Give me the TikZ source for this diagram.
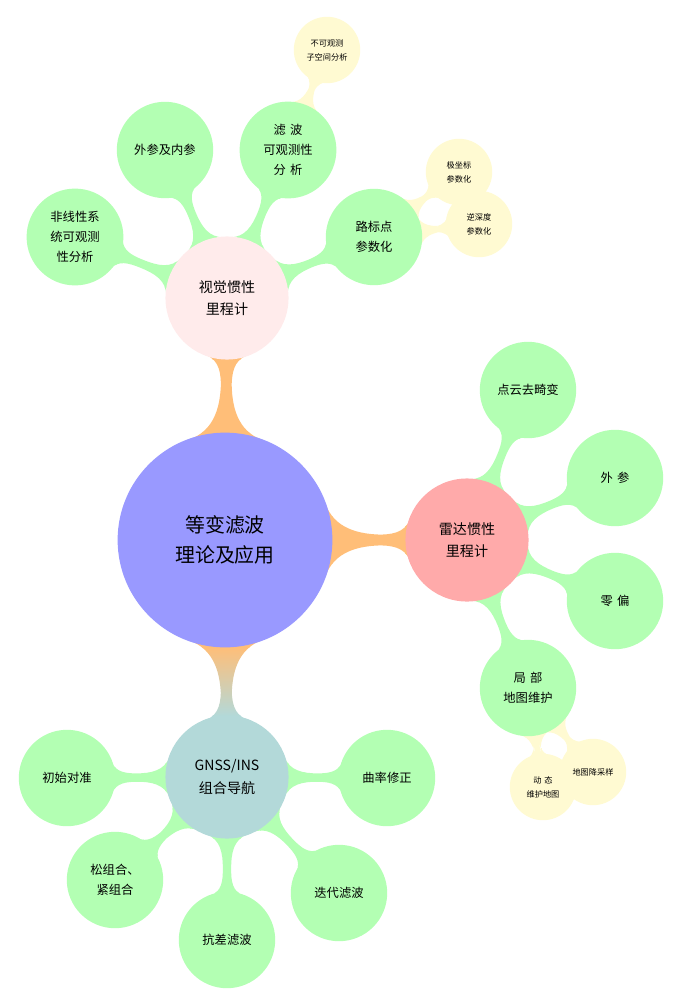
\documentclass[tikz,border=0pt]{standalone}
\usepackage{fontspec}
\newfontfamily\cjk{Noto Sans CJK SC}
\usetikzlibrary{mindmap,backgrounds}
\definecolor{cblue}{RGB}{153,153,255}
\definecolor{cpink}{RGB}{255,235,235}
\definecolor{cred}{RGB}{255,170,170}
\definecolor{cteal}{RGB}{179,217,217}
\definecolor{cgreen}{RGB}{179,255,179}
\definecolor{cyel}{RGB}{255,250,210}
\definecolor{corange}{RGB}{255,190,120}
\begin{document}
\begin{tikzpicture}[mindmap, x=0.03cm, y=-0.03cm,
  big/.style={concept, concept color=cblue, minimum size=6.4cm, text width=5cm, font=\cjk\fontsize{17}{26}\selectfont, align=center},
  mid/.style={concept, minimum size=3.65cm, text width=2.8cm, font=\cjk\fontsize{12}{19}\selectfont, align=center},
  leaf/.style={concept, concept color=cgreen, minimum size=2.85cm, text width=2.3cm, font=\cjk\fontsize{10.5}{17}\selectfont, align=center},
  tiny/.style={concept, concept color=cyel, minimum size=1.95cm, text width=1.7cm, font=\cjk\fontsize{7}{12}\selectfont, align=center}]
\useasboundingbox (0,0) rectangle (682,1008);
\node[big] (c) at (225,540) {等变滤波\\理论及应用};
\node[mid, concept color=cpink] (v) at (227,298) {视觉惯性\\里程计};
\node[mid, concept color=cred] (r) at (467,540) {雷达惯性\\里程计};
\node[mid, concept color=cteal] (g) at (227,777) {GNSS/INS\\组合导航};
\node[leaf] (v1) at (75,237) {非线性系\\统可观测\\性分析};
\node[leaf] (v2) at (165,150) {外参及内参};
\node[leaf] (v3) at (288,150) {滤 波\\可观测性\\分 析};
\node[leaf] (v4) at (374,237) {路标点\\参数化};
\node[tiny] (y1) at (327,50) {不可观测\\子空间分析};
\node[tiny] (y2) at (459,172) {极坐标\\参数化};
\node[tiny] (y3) at (479,224) {逆深度\\参数化};
\node[leaf] (r1) at (528,390) {点云去畸变};
\node[leaf] (r2) at (615,478) {外 参};
\node[leaf] (r3) at (615,601) {零 偏};
\node[leaf] (r4) at (528,688) {局 部\\地图维护};
\node[tiny] (y4) at (543,787) {动 态\\维护地图};
\node[tiny] (y5) at (593,772) {地图降采样};
\node[leaf] (g1) at (67,778) {初始对准};
\node[leaf] (g2) at (115,880) {松组合、\\紧组合};
\node[leaf] (g3) at (227,940) {抗差滤波};
\node[leaf] (g4) at (339,893) {迭代滤波};
\node[leaf] (g5) at (387,778) {曲率修正};
\begin{scope}[on background layer]
\path (c) to[circle connection bar switch color=from (corange) to (corange)] (v);
\path (c) to[circle connection bar switch color=from (corange) to (corange)] (r);
\path (c) to[circle connection bar switch color=from (corange) to (cteal)] (g);
\foreach \a/\b in {v/v1,v/v2,v/v3,v/v4,r/r1,r/r2,r/r3,r/r4,g/g1,g/g2,g/g3,g/g4,g/g5}
  \path (\a) to[circle connection bar switch color=from (cgreen) to (cgreen)] (\b);
\foreach \a/\b in {v3/y1,v4/y2,v4/y3,r4/y4,r4/y5}
  \path (\a) to[circle connection bar switch color=from (cyel) to (cyel)] (\b);
\end{scope}
\end{tikzpicture}
\end{document}
